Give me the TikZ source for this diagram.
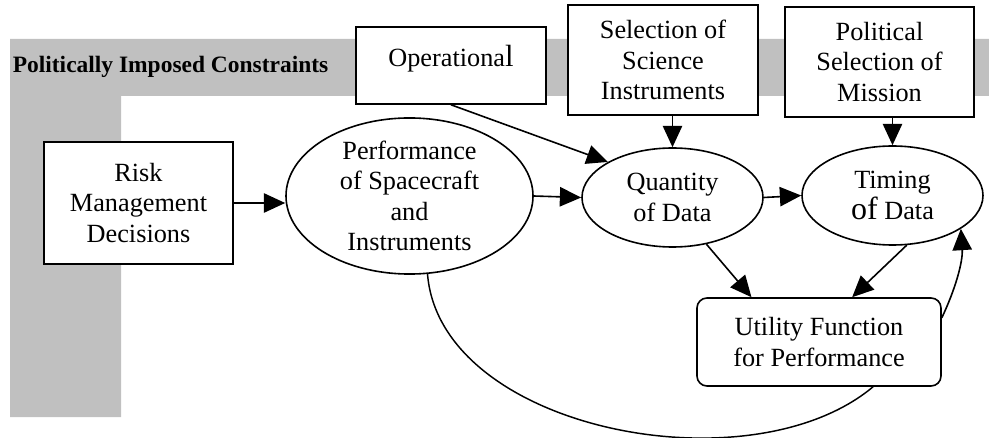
\documentclass[tikz,border=0pt]{standalone}
\usepackage{fontspec}
\setmainfont{Liberation Serif}
\usetikzlibrary{arrows.meta,shapes.geometric,calc}

\definecolor{bandgray}{RGB}{192,192,192}

\begin{document}
\begin{tikzpicture}[x=0.75pt,y=-0.75pt,
  every node/.style={font=\fontsize{19.7}{22.9}\selectfont, align=center, inner sep=0pt, line width=1.2pt},
  rbox/.style={draw, rectangle},
  oval/.style={draw, ellipse},
  ubox/.style={draw, rectangle, rounded corners=7.5pt},
  link/.style={line width=1.2pt, -{Triangle[length=16pt,width=14.5pt]}},
  plain/.style={line width=1.1pt}
]
\useasboundingbox (0,0) rectangle (989,438);

% grey L-shaped band of political constraints
\fill[bandgray] (10,39) -- (989,39) -- (989,96) -- (121,96) -- (121,417) -- (10,417) -- cycle;
\node[anchor=base west, font=\fontsize{17.6}{20}\selectfont\bfseries] (title) at (12,73) {Politically Imposed Constraints};

% boxes
\node[rbox, fill=white, minimum width=141.75pt, minimum height=91.5pt] (risk) at (138.5,203) {Risk\\Management\\Decisions};
\node[rbox, fill=white, minimum width=142.5pt, minimum height=57.75pt, text height=15pt, text depth=13pt] (oper) at (451,65.5) {Operationa{\fontsize{23}{23}\selectfont l}};
\node[rbox, fill=white, minimum width=142.5pt, minimum height=82.5pt] (sel) at (663,60) {Selection of\\Science\\Instruments};
\node[rbox, fill=white, minimum width=141.75pt, minimum height=82.5pt] (pol) at (879.5,62) {Political\\Selection of\\Mission};

% ellipses
\node[oval, minimum width=185.25pt, minimum height=111pt] (perf) at (409.5,196) {Performance\\of Spacecraft\\and\\Instruments};
\node[oval, minimum width=135.75pt, minimum height=74.25pt] (qty) at (672.5,197.5) {Quantity\\of Data};
\node[oval, minimum width=135.75pt, minimum height=74.25pt] (tim) at (892.5,195.5) {Timing\\{\fontsize{24}{24}\selectfont of} Data};

% utility box
\node[ubox, minimum width=183pt, minimum height=66pt] (util) at (819,342) {Utility Function\\for Performance};

% connectors
\draw[link] (risk.east) -- (risk.east -| perf.west);
\draw[link] (perf.east) -- (qty.west);
\draw[link] (qty.east) -- (tim.west);
\draw[link] (oper.south) -- (qty.north west);
\draw[link] (sel.south -| qty.north) -- (qty.north);
\draw[link] (pol.south -| tim.north) -- (tim.north);
\draw[link] (qty.-54) -- ($(util.north west)!0.225!(util.north east)$);
\draw[link] (tim.-74) -- ($(util.north west)!0.635!(util.north east)$);
\draw[link] ($(util.north east)!0.23!(util.south east)$) .. controls (955,290) and (963,262) .. (tim.-26);
\draw[plain] (perf.-77) .. controls (440,430) and (750,490) .. ($(util.south west)!0.72!(util.south east)$);
\end{tikzpicture}
\end{document}
